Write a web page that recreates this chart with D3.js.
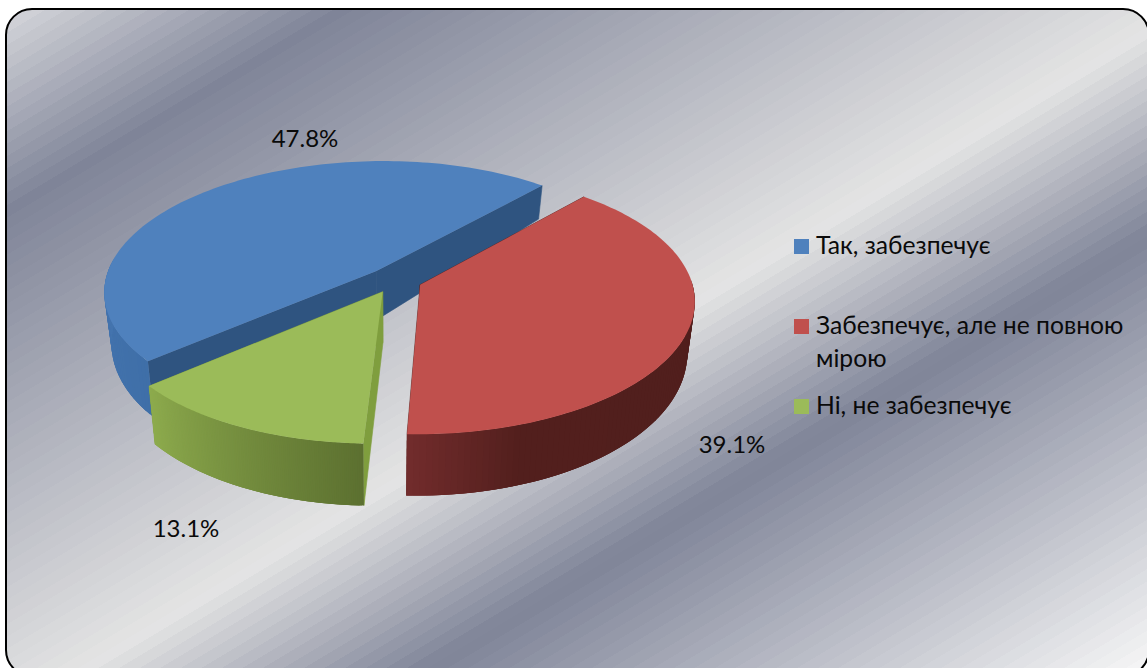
<!DOCTYPE html>
<html>
<head>
<meta charset="utf-8">
<style>
  html, body { margin: 0; background: #fff; }
  svg { display: block; }
  text { font-family: Lato, "Open Sans", sans-serif; fill: #0a0a0a; }
</style>
<script src="https://cdn.jsdelivr.net/npm/d3@7"></script>
</head>
<body>
<script>
const categories = ['Так, забезпечує', 'Забезпечує, але не повною', 'Ні, не забезпечує'];
const legendExtra = ['', 'мірою', ''];
const shares = [47.8, 39.1, 13.1];
const colors = ['#4f81bd', '#c0504d', '#9bbb59'];

const width = 1147;
const height = 668;
const rad = Math.PI / 180;

// pie geometry, fitted by eye against the picture
const center = { x: 395, y: 280 };
const radius = { x: 271, y: 127.5 };
const perspective = 0.138;
const shear = -6;
const explode = 0.1;
const wallHeight = d3.scaleLinear().domain([-1, 0, 1]).range([30, 50, 61]);
const wallShrink = 0.975;

const svg = d3.select('body')
  .append('svg')
    .attr('viewBox', [0, 0, width, height].join(' '))
    .attr('width', width)
    .attr('height', height);

// steel background, banded like the original
const steel = d3.scaleLinear()
  .domain([0, 0.158, 0.531, 0.682, 1])
  .range(['#dcdde0', '#7f8498', '#e4e4e4', '#7f8498', '#f6f6f6']);
const bands = 110;
const grad = svg.append('defs').append('linearGradient')
  .attr('id', 'steel')
  .attr('gradientUnits', 'userSpaceOnUse')
  .attr('x1', 0).attr('y1', 0)
  .attr('x2', 598).attr('y2', 997);
d3.range(bands).forEach((i) => {
  const c = steel((i + 0.5) / bands);
  grad.append('stop').attr('offset', i / bands).attr('stop-color', c);
  grad.append('stop').attr('offset', (i + 1) / bands).attr('stop-color', c);
});

svg.append('rect')
  .attr('x', 6).attr('y', 9)
  .attr('width', 1143).attr('height', 667)
  .attr('rx', 26).attr('ry', 26)
  .attr('fill', 'url(#steel)')
  .attr('stroke', '#000')
  .attr('stroke-width', 2);

const project = (u, v, depth) => {
  const w = 1 - perspective * v;
  const k = depth ? wallShrink : 1;
  return [
    center.x + k * radius.x * u / w + shear * v / w,
    center.y + radius.y * v / w + (depth ? wallHeight(v) : 0),
  ];
};

const pie = d3.pie()
  .sort(null)
  .value((d) => d)
  .startAngle(-131 * rad)
  .endAngle((360 - 131) * rad);

const arcs = pie(shares);
const line = d3.line();

const wallColors = [
  d3.scaleLinear().domain([0, 0.3, 1]).range(['#3f6fa8', '#4676b1', '#3f6ea6']),
  d3.scaleLinear().domain([0, 0.85, 1]).range(['#4f1f1c', '#521f1d', '#722c2c']),
  d3.scaleLinear().domain([0, 1]).range(['#5c7030', '#8dab4d']),
];
const cutColors = ['#2f5480', '#5a2320', '#7f9e3e'];

const slices = svg.selectAll('.slice')
  .data(arcs)
  .enter()
    .append('g')
    .attr('class', 'slice');

slices.each(function (d, i) {
  const g = d3.select(this);
  const mid = (d.startAngle + d.endAngle) / 2;
  const ou = explode * Math.sin(mid);
  const ov = -explode * Math.cos(mid);
  const rim = (a, depth) => project(ou + Math.sin(a), ov - Math.cos(a), depth);
  const apex = (depth) => project(ou, ov, depth);
  const steps = 120;
  const angles = d3.range(0, steps + 1).map((s) => d.startAngle + (d.endAngle - d.startAngle) * s / steps);

  // the two cut faces
  [d.startAngle, d.endAngle].forEach((a) => {
    g.append('path')
      .attr('d', line([apex(0), rim(a, 0), rim(a, 1), apex(1)]) + 'Z')
      .attr('fill', cutColors[i])
      .attr('stroke', cutColors[i])
      .attr('stroke-width', 0.6);
  });

  // outer wall, front half only; each strip runs under the next so no seams show
  d3.range(0, steps).forEach((s) => {
    if (Math.cos(angles[s]) > 0.05) return;
    const next = angles[Math.min(s + 3, steps)];
    g.append('path')
      .attr('d', line([rim(angles[s], 0), rim(next, 0), rim(next, 1), rim(angles[s], 1)]) + 'Z')
      .attr('fill', wallColors[i]((s + 0.5) / steps));
  });

  // top face
  g.append('path')
    .attr('d', line([apex(0), ...angles.map((a) => rim(a, 0))]) + 'Z')
    .attr('fill', colors[i]);
});

// data labels sit where the original's best-fit layout left them
const labelAt = [[305, 147], [732, 453], [186, 537]];
svg.selectAll('.share')
  .data(shares)
  .enter()
    .append('text')
    .attr('class', 'share')
    .attr('text-anchor', 'middle')
    .attr('font-size', 24)
    .attr('x', (d, i) => labelAt[i][0])
    .attr('y', (d, i) => labelAt[i][1])
    .text((d) => d3.format('.1f')(d) + '%');

// legend
const legendY = d3.scalePoint()
  .domain(categories)
  .range([246.5, 406.5]);

const legend = svg.selectAll('.legend')
  .data(categories)
  .enter()
    .append('g')
    .attr('class', 'legend')
    .attr('transform', (d) => `translate(794, ${legendY(d)})`);

legend.append('rect')
  .attr('y', -7.5)
  .attr('width', 15)
  .attr('height', 15)
  .attr('fill', (d, i) => colors[i]);

legend.append('text')
  .attr('x', 22)
  .attr('y', 7.5)
  .attr('font-size', 24.7)
  .text((d) => d);

legend.append('text')
  .attr('x', 22)
  .attr('y', 40.5)
  .attr('font-size', 24.7)
  .text((d, i) => legendExtra[i]);
</script>
</body>
</html>
